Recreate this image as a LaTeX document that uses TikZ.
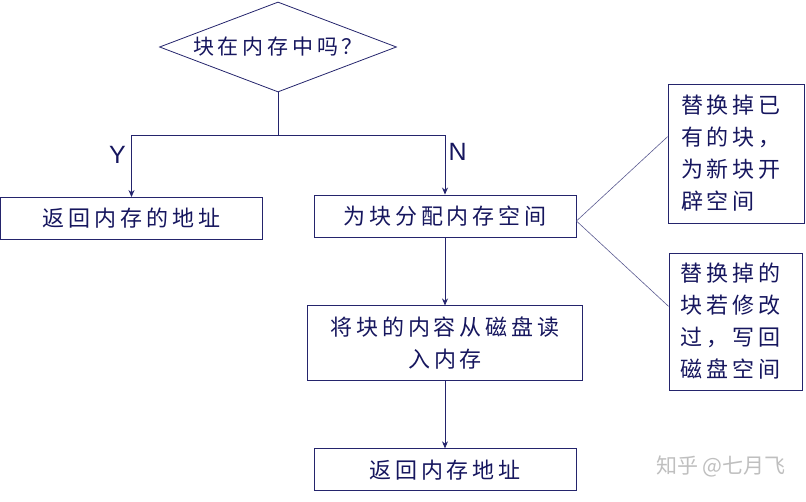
\documentclass[tikz,border=0pt]{standalone}
\usepackage{fontspec}
\setmainfont{Liberation Sans}
\newfontfamily\cjk[LetterSpace=18]{Noto Sans CJK SC}
\newfontfamily\cjkmark{Noto Sans CJK SC}
\usetikzlibrary{
    shapes.geometric, arrows.meta, positioning, calc
}
\definecolor{ink}{HTML}{16165E}
\definecolor{wire}{HTML}{24246C}
\tikzset{
  blk/.style={rectangle, draw=wire, line width=0.9pt, text=ink,
              minimum width=262pt, minimum height=42pt, inner sep=2pt,
              align=center, font=\cjk\fontsize{22}{32}\selectfont},
  dec/.style={diamond, draw=wire, line width=0.8pt, text=ink, aspect=2.6,
              minimum width=237pt, minimum height=90pt, inner sep=1pt,
              font=\cjk\fontsize{21}{26}\selectfont},
  note/.style={blk, minimum width=136pt, minimum height=139pt,
               text width=110pt, align=left},
  arr/.style={-{Stealth[length=7pt, width=6pt]}, line width=0.8pt, draw=wire},
  lnk/.style={draw=wire!75, line width=0.6pt},
}

\begin{document}
\begin{tikzpicture}[
  x=1pt, y=1pt,
  yn/.style={text=ink, font=\fontsize{25}{25}\selectfont},
  wmark/.style={text=gray!50, font=\cjkmark\fontsize{21}{21}\selectfont},
  node distance=68pt
]
  \useasboundingbox (0,0) rectangle (806,501);

  \node[dec] (ask) at (278,454) {块在内存中吗？};
  \node[blk] (retaddr) at (131.5,282.5) {返回内存的地址};
  \node[blk] (alloc) at (445,285) {为块分配内存空间};
  \node[blk, minimum width=275pt, minimum height=75pt, below=of alloc] (load)
       {将块的内容从磁盘读\\入内存};
  \node[blk, below=67pt of load] (ret) {返回内存地址};
  \node[note] (evict) at (736,347.5) {替换掉已\\有的块，\\为新块开\\辟空间};
  \node[note, minimum width=133pt, minimum height=137pt] (wback) at (735.5,179.5)
       {替换掉的\\块若修改\\过，写回\\磁盘空间};

  \draw[line width=0.8pt, draw=wire] (ask.south) -- ++(0,-43) coordinate (split);
  \draw[arr] (split) -| node[yn, pos=0.66, left=2pt] {Y} (retaddr.north);
  \draw[arr] (split) -| node[yn, pos=0.64, right=0pt] {N} (alloc.north);
  \draw[arr] (alloc) -- (load);
  \draw[arr] (load) -- (ret);

  \coordinate (fan) at ($(alloc.east)+(0,-5)$);
  \draw[lnk] (fan) -- ($(evict.north west)!0.38!(evict.south west)$);
  \draw[lnk] (fan) -- ($(wback.north west)!0.39!(wback.south west)$);

  \node[wmark] (zh) at (721,35) {知乎 @七月飞};
\end{tikzpicture}
\end{document}
